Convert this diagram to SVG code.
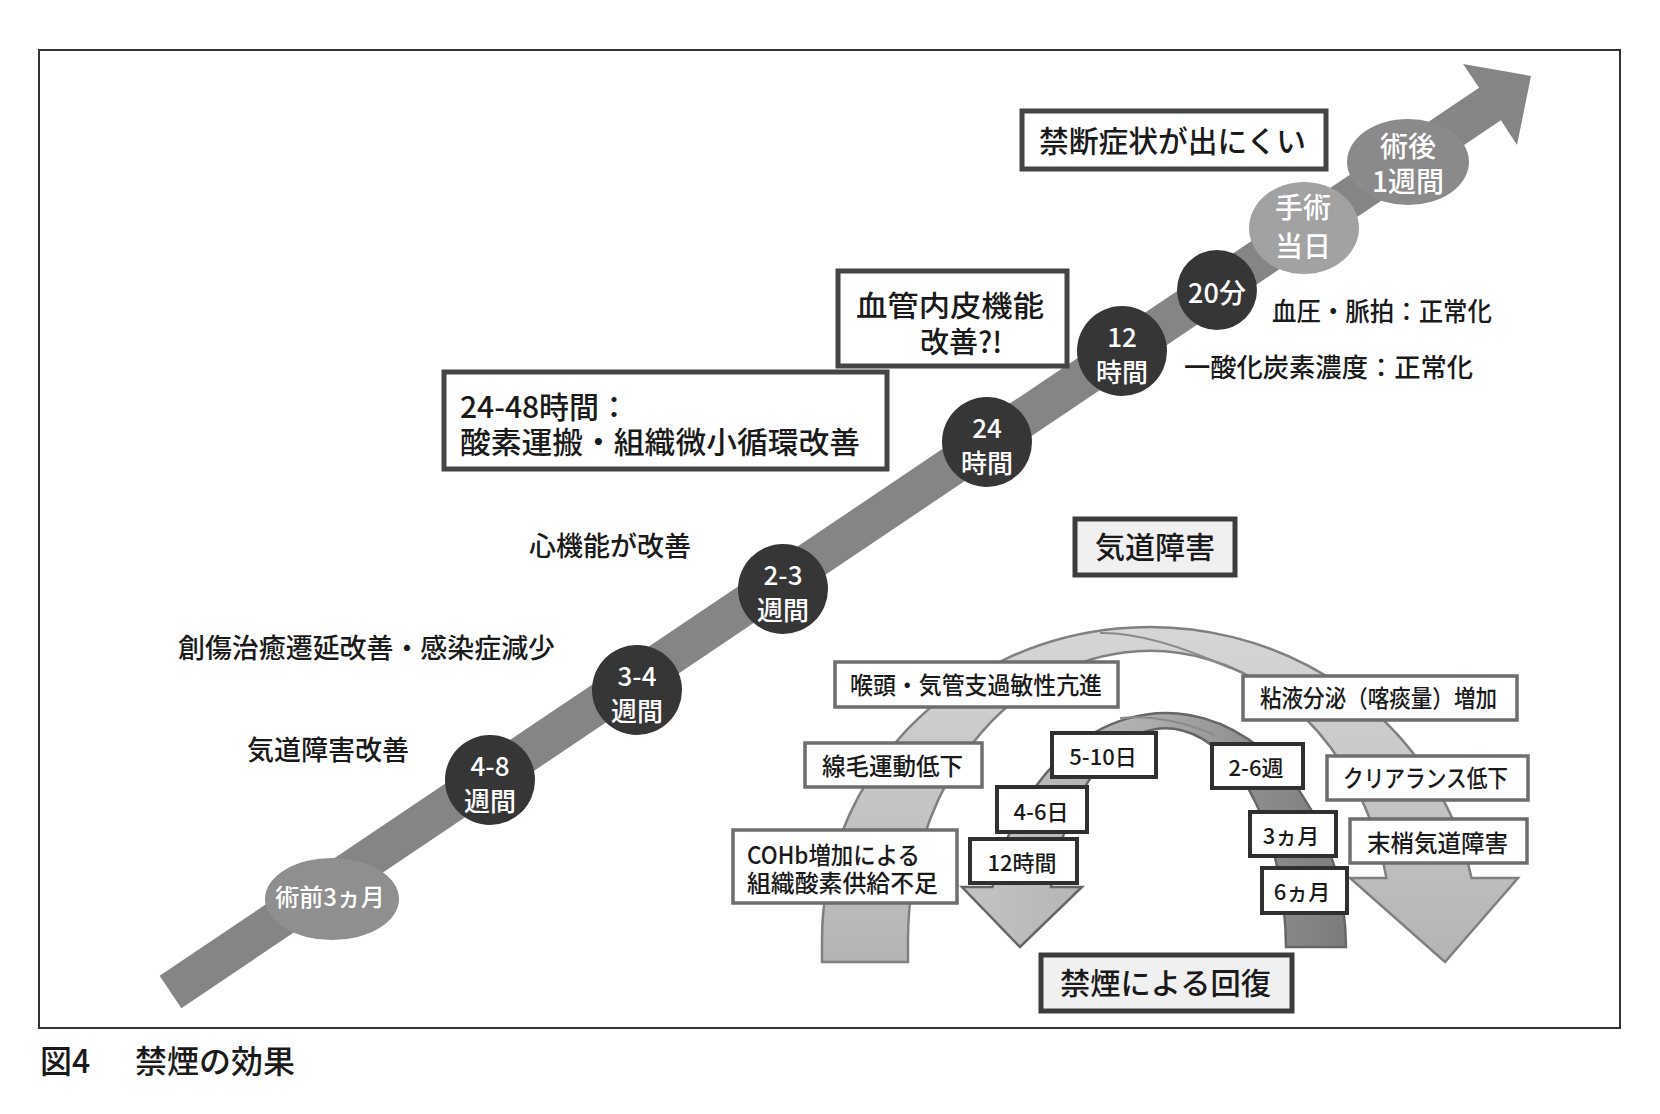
<svg xmlns="http://www.w3.org/2000/svg" width="1660" height="1114" viewBox="0 0 1660 1114">
<defs>
<style>
text { font-family: "Noto Sans CJK JP", "Noto Sans", sans-serif; font-weight: 500; fill: #1a1a1a; }
.w { fill: #ffffff; text-anchor: middle; }
.m { text-anchor: middle; }
.big { fill: #ffffff; stroke: #454545; stroke-width: 5; }
.gbox { fill: #f0f0f0; stroke: #3c3c3c; stroke-width: 5; }
.sym { fill: #ffffff; stroke: #6e6e6e; stroke-width: 3.5; }
.time { fill: #ffffff; stroke: #303030; stroke-width: 4; }
.dark { fill: #363636; }
.t30 { font-size: 30px; }
.t29 { font-size: 29px; }
.t27 { font-size: 27px; }
.t26 { font-size: 26px; }
.t24 { font-size: 24px; }
.t22 { font-size: 22px; }
.crease { fill: none; stroke: #8a8a8a; stroke-width: 2; }
</style>
<linearGradient id="gOuter" x1="0" y1="0" x2="0" y2="1">
<stop offset="0" stop-color="#d6d6d6"/>
<stop offset="1" stop-color="#b4b4b4"/>
</linearGradient>
<linearGradient id="gInner" gradientUnits="userSpaceOnUse" x1="960" y1="0" x2="1346" y2="0">
<stop offset="0" stop-color="#c4c4c4"/>
<stop offset="0.5" stop-color="#acacac"/>
<stop offset="0.75" stop-color="#8e8e8e"/>
<stop offset="1" stop-color="#7c7c7c"/>
</linearGradient>
</defs>
<rect x="0" y="0" width="1660" height="1114" fill="#ffffff"/>
<rect id="frame" x="39" y="50" width="1581" height="978" fill="none" stroke="#333333" stroke-width="2"/>

<g id="connectors">
<polygon id="timeline-arrow" points="159.6,975.8 1479.1,87.8 1463,64 1531,76 1517,145 1500.9,120.2 181.4,1008.2" fill="#858585"/>
<path id="arch-outer" d="M 822,962 L 822,940 A 328 313 0 0 1 1471.5,878 L 1518,878 L 1445,962 L 1350,878 L 1386.4,878 A 242 289 0 0 0 908,940 L 908,962 Z" fill="url(#gOuter)" stroke="#808080" stroke-width="2.5" stroke-linejoin="miter"/>
<path class="crease" d="M 1100,633 Q 1150,632 1230,668"/>
<path id="arch-inner" d="M 1286,947 L 1346,947 A 180 237 0 0 0 992.5,887 L 962,887 L 1020,947 L 1082,887 L 1051,887 A 120 222 0 0 1 1286,947 Z" fill="url(#gInner)" stroke="#666666" stroke-width="2.5"/>
<path class="crease" d="M 1120,718 Q 1166,714 1215,735"/>
</g>

<g id="node-pre3m">
<ellipse cx="332" cy="899" rx="67" ry="41" fill="#8f8f8f"/>
<text class="w" x="330" y="906" style="font-size:24px">術前3ヵ月</text>
</g>
<g id="node-4-8w">
<circle class="dark" cx="490" cy="780" r="45"/>
<text class="w t26" x="490" y="776">4-8</text>
<text class="w t26" x="490" y="811">週間</text>
</g>
<g id="node-3-4w">
<circle class="dark" cx="637" cy="690" r="45"/>
<text class="w t26" x="637" y="686">3-4</text>
<text class="w t26" x="637" y="721">週間</text>
</g>
<g id="node-2-3w">
<circle class="dark" cx="783" cy="589" r="45"/>
<text class="w t26" x="783" y="585">2-3</text>
<text class="w t26" x="783" y="620">週間</text>
</g>
<g id="node-24h">
<circle class="dark" cx="987" cy="442" r="45"/>
<text class="w t26" x="987" y="438">24</text>
<text class="w t26" x="987" y="473">時間</text>
</g>
<g id="node-12h">
<circle class="dark" cx="1122" cy="351" r="45"/>
<text class="w t26" x="1122" y="347">12</text>
<text class="w t26" x="1122" y="382">時間</text>
</g>
<g id="node-20m">
<circle class="dark" cx="1217" cy="290" r="40"/>
<text class="w t27" x="1217" y="303">20分</text>
</g>
<g id="node-opday">
<ellipse cx="1304" cy="228" rx="55" ry="46" fill="#a2a2a2"/>
<text class="w" x="1303" y="218" style="font-size:28px">手術</text>
<text class="w" x="1303" y="257" style="font-size:28px">当日</text>
</g>
<g id="node-post1w">
<ellipse cx="1408" cy="162" rx="61" ry="43" fill="#8a8a8a"/>
<text class="w" x="1408" y="157" style="font-size:28px">術後</text>
<text class="w" x="1408" y="192" style="font-size:28px">1週間</text>
</g>

<g id="box-withdrawal">
<rect class="big" x="1022" y="111" width="304" height="58"/>
<text class="t30" x="1039" y="152" textLength="267" lengthAdjust="spacingAndGlyphs">禁断症状が出にくい</text>
</g>
<g id="box-endothelium">
<rect class="big" x="838" y="271" width="229" height="95"/>
<text class="t29" x="856" y="317" textLength="188" lengthAdjust="spacingAndGlyphs">血管内皮機能</text>
<text class="t29" x="920" y="353">改善?!</text>
</g>
<g id="box-24-48h">
<rect class="big" x="444" y="372" width="443" height="97"/>
<text class="t30" x="460" y="418">24-48時間：</text>
<text class="t30" x="460" y="453" textLength="400" lengthAdjust="spacingAndGlyphs">酸素運搬・組織微小循環改善</text>
</g>

<g id="label-bp">
<text class="t26" x="1272" y="321" textLength="220" lengthAdjust="spacingAndGlyphs">血圧・脈拍：正常化</text>
</g>
<g id="label-co">
<text class="t26" x="1184" y="377" textLength="289" lengthAdjust="spacingAndGlyphs">一酸化炭素濃度：正常化</text>
</g>
<g id="label-heart">
<text class="t27" x="529" y="556">心機能が改善</text>
</g>
<g id="label-wound">
<text class="t27" x="178" y="658" textLength="377" lengthAdjust="spacingAndGlyphs">創傷治癒遷延改善・感染症減少</text>
</g>
<g id="label-airway-improve">
<text class="t27" x="247" y="760">気道障害改善</text>
</g>

<g id="box-airway">
<rect class="gbox" x="1075" y="519" width="160" height="56"/>
<text class="t30 m" x="1155" y="558">気道障害</text>
</g>
<g id="box-recovery">
<rect class="gbox" x="1041" y="955" width="251" height="56"/>
<text class="t30" x="1060" y="994" textLength="211" lengthAdjust="spacingAndGlyphs">禁煙による回復</text>
</g>

<g id="sym-hyper">
<rect class="sym" x="835" y="662" width="283" height="45"/>
<text class="t24" x="850" y="694" textLength="252" lengthAdjust="spacingAndGlyphs">喉頭・気管支過敏性亢進</text>
</g>
<g id="sym-cilia">
<rect class="sym" x="805" y="743" width="177" height="44"/>
<text class="t24" x="822" y="775" textLength="141" lengthAdjust="spacingAndGlyphs">線毛運動低下</text>
</g>
<g id="sym-cohb">
<rect class="sym" x="733" y="830" width="224" height="73"/>
<text class="t24" x="747" y="864" textLength="173" lengthAdjust="spacingAndGlyphs">COHb増加による</text>
<text class="t24" x="747" y="892" textLength="191" lengthAdjust="spacingAndGlyphs">組織酸素供給不足</text>
</g>
<g id="sym-mucus">
<rect class="sym" x="1243" y="676" width="274" height="44"/>
<text class="t24" x="1260" y="707" textLength="237" lengthAdjust="spacingAndGlyphs">粘液分泌（喀痰量）増加</text>
</g>
<g id="sym-clearance">
<rect class="sym" x="1327" y="756" width="201" height="44"/>
<text class="t24" x="1343" y="787" textLength="165" lengthAdjust="spacingAndGlyphs">クリアランス低下</text>
</g>
<g id="sym-peripheral">
<rect class="sym" x="1350" y="819" width="177" height="44"/>
<text class="t24" x="1367" y="852" textLength="141" lengthAdjust="spacingAndGlyphs">末梢気道障害</text>
</g>

<g id="time-5-10d">
<rect class="time" x="1052" y="733" width="104" height="44"/>
<text class="t22 m" x="1103" y="765">5-10日</text>
</g>
<g id="time-4-6d">
<rect class="time" x="997" y="787" width="90" height="45"/>
<text class="t22 m" x="1041" y="820">4-6日</text>
</g>
<g id="time-12h">
<rect class="time" x="970" y="839" width="107" height="44"/>
<text class="t22 m" x="1022" y="871">12時間</text>
</g>
<g id="time-2-6w">
<rect class="time" x="1212" y="744" width="91" height="44"/>
<text class="t22 m" x="1256" y="776">2-6週</text>
</g>
<g id="time-3m">
<rect class="time" x="1250" y="812" width="86" height="44"/>
<text class="t22 m" x="1291" y="844">3ヵ月</text>
</g>
<g id="time-6m">
<rect class="time" x="1262" y="868" width="85" height="45"/>
<text class="t22 m" x="1302" y="900">6ヵ月</text>
</g>

<g id="caption">
<text x="40" y="1073" style="font-size:32px"><tspan x="40">図4</tspan><tspan x="135">禁煙の効果</tspan></text>
</g>
</svg>
